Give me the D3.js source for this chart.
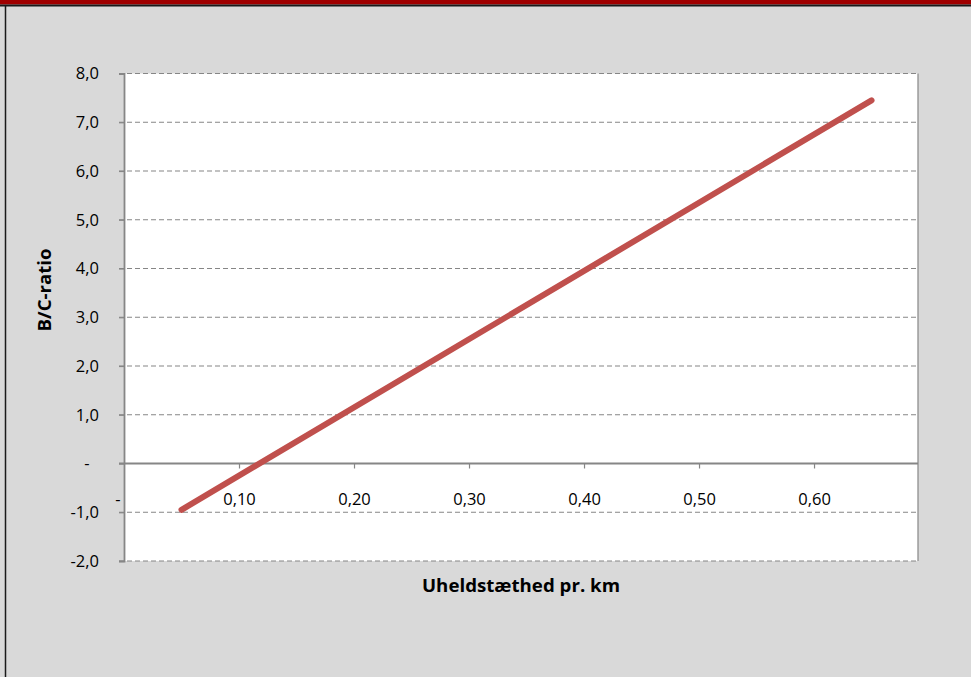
<!DOCTYPE html>
<html><head><meta charset="utf-8">
<script src="https://cdn.jsdelivr.net/npm/d3@7"></script>
<style>html,body{margin:0;padding:0;background:#d9d9d9;overflow:hidden}</style>
</head><body>
<svg id="c" width="971" height="677"></svg>
<script>
// Data
const xValues = [0.05, 0.65];
const yValues = [-0.95, 7.45];
const yTicks = [-2, -1, 0, 1, 2, 3, 4, 5, 6, 7, 8];
const xTicks = [0, 0.1, 0.2, 0.3, 0.4, 0.5, 0.6];
const xTitle = "Uheldstæthed pr. km";
const yTitle = "B/C-ratio";

const FONT = "'Open Sans', 'Noto Sans', sans-serif";
const svg = d3.select("#c");
const W = 971, H = 677;
svg.append("rect").attr("width", W).attr("height", H).attr("fill", "#d9d9d9");
svg.append("rect").attr("x", 0).attr("y", 0).attr("width", W).attr("height", 4.5).attr("fill", "#a00000");
svg.append("line").attr("x1", 0).attr("x2", W).attr("y1", 5.5).attr("y2", 5.5).attr("stroke", "#1a1a1a").attr("stroke-width", 2);
svg.append("line").attr("x1", 5.5).attr("x2", 5.5).attr("y1", 5).attr("y2", H).attr("stroke", "#1a1a1a").attr("stroke-width", 1.5);

const L = 124, R = 918, T = 73.5, B = 561;
const x = d3.scaleLinear().domain([0, 0.6904]).range([L, R]);
const y = d3.scaleLinear().domain([-2, 8]).range([B, T]);

svg.append("rect").attr("x", L).attr("y", T).attr("width", R - L).attr("height", B - T).attr("fill", "#fff");

const fmtY = v => v === 0 ? "-" : d3.format(".1f")(v).replace(".", ",").replace("−", "-");
const fmtX = v => v === 0 ? "-" : d3.format(".2f")(v).replace(".", ",");

// gridlines
const g = svg.append("g");
yTicks.forEach(v => {
  if (v === 0) return;
  g.append("line").attr("x1", L - 5).attr("x2", R).attr("y1", y(v)).attr("y2", y(v))
    .attr("stroke", "#868686").attr("stroke-width", 1.2).attr("stroke-dasharray", "5,3");
});
// right border
svg.append("line").attr("x1", R).attr("x2", R).attr("y1", T).attr("y2", B).attr("stroke", "#868686").attr("stroke-width", 1.2);

// y axis
const yAxis = d3.axisLeft(y).tickValues(yTicks).tickSize(5).tickFormat(fmtY);
const ya = svg.append("g").attr("transform", `translate(${L},0)`).call(yAxis);
ya.select(".domain").attr("stroke", "#868686").attr("stroke-width", 1.8);
ya.selectAll(".tick line").attr("stroke", "#868686").attr("stroke-width", 1.2);
ya.selectAll(".tick text").attr("x", d => d === 0 ? -37 : -25).attr("text-anchor", d => d === 0 ? "middle" : "end")
  .attr("font-family", FONT).attr("font-size", 16.5).attr("fill", "#000");

// x axis at zero
const xAxis = d3.axisBottom(x).tickValues(xTicks.filter(v => v > 0)).tickSize(5).tickFormat(fmtX).tickSizeOuter(0);
const xa = svg.append("g").attr("transform", `translate(0,${y(0)})`).call(xAxis);
xa.select(".domain").attr("stroke", "#868686").attr("stroke-width", 1.8).attr("d", `M${L - 5},0H${R}`);
xa.selectAll(".tick line").attr("stroke", "#868686").attr("stroke-width", 1.2);
xa.selectAll(".tick text").attr("y", 41).attr("dy", null).attr("font-family", FONT).attr("font-size", 16.5).attr("fill", "#000");
xa.append("text").attr("x", x(0) - 6).attr("y", 41).attr("text-anchor", "middle")
  .attr("font-family", FONT).attr("font-size", 16.5).attr("fill", "#000").text(fmtX(xTicks[0]));

// line
const pts = xValues.map((v, i) => [v, yValues[i]]);
svg.append("path").datum(pts)
  .attr("d", d3.line().x(d => x(d[0])).y(d => y(d[1])))
  .attr("fill", "none").attr("stroke", "#c0504d").attr("stroke-width", 6).attr("stroke-linecap", "round");

// titles
svg.append("text").attr("x", 521).attr("y", 592).attr("text-anchor", "middle")
  .attr("textLength", 198).attr("lengthAdjust", "spacingAndGlyphs")
  .attr("font-family", FONT).attr("font-weight", "bold").attr("font-size", 17).attr("fill", "#000").text(xTitle);
svg.append("text").attr("transform", "translate(51,290) rotate(-90)").attr("text-anchor", "middle")
  .attr("textLength", 83).attr("lengthAdjust", "spacingAndGlyphs")
  .attr("font-family", FONT).attr("font-weight", "bold").attr("font-size", 17).attr("fill", "#000").text(yTitle);
</script>
</body></html>
